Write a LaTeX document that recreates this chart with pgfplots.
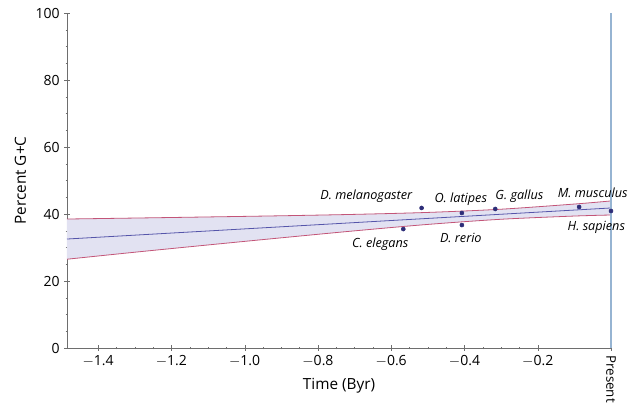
\documentclass[border=0pt]{standalone}
\usepackage{pgfplots}
\pgfplotsset{compat=1.18}
\usepackage{fontspec}
\setmainfont{Open Sans}
\definecolor{bandfill}{RGB}{226,226,242}
\definecolor{centerblue}{RGB}{85,85,170}
\definecolor{markblue}{RGB}{45,45,120}
\definecolor{boundred}{RGB}{195,85,120}
\definecolor{presentblue}{RGB}{150,180,210}
\definecolor{axisgray}{RGB}{110,110,110}
\begin{document}
\begin{tikzpicture}
\begin{axis}[
    scale only axis,
    width=408pt, height=251.25pt,
    xmin=-1.485, xmax=0,
    ymin=0, ymax=100,
    axis lines=left,
    axis line style={axisgray, -},
    xtick={-1.4,-1.2,-1.0,-0.8,-0.6,-0.4,-0.2},
    xticklabels={$-$1.4,$-$1.2,$-$1.0,$-$0.8,$-$0.6,$-$0.4,$-$0.2},
    extra x ticks={0},
    extra x tick labels={Present},
    extra x tick style={tick label style={rotate=-90, anchor=west, font=\fontsize{10}{12}\selectfont}},
    ytick={0,20,40,60,80,100},
    minor x tick num=3,
    minor y tick num=3,
    tick style={axisgray},
    major tick length=4pt, minor tick length=2pt,
    tick label style={font=\fontsize{10.5}{12}\selectfont},
    /pgf/number format/assume math mode=true,
    xlabel={Time (Byr)},
    ylabel={Percent G+C},
    xlabel style={at={(axis description cs:0.5,0)}, anchor=center, yshift=-28pt},
    ylabel style={at={(axis description cs:0,0.5)}, anchor=center, rotate=0, yshift=35pt},
    label style={font=\fontsize{11.5}{14}\selectfont},
    clip=false,
]
\addplot[draw=none, fill=bandfill] coordinates {
  (-1.485,38.50) (-1.3,38.79) (-1.1,39.12) (-0.9,39.47) (-0.7,39.89) (-0.5,40.47) (-0.3,41.43) (-0.1,42.97) (0,43.90)
  (0,39.70) (-0.1,39.39) (-0.3,38.43) (-0.5,36.89) (-0.7,34.97) (-0.9,32.89) (-1.1,30.76) (-1.3,28.59) (-1.485,26.50)
} -- cycle;
\addplot[boundred, line width=0.6pt, smooth] coordinates {
  (-1.485,38.50) (-1.3,38.79) (-1.1,39.12) (-0.9,39.47) (-0.7,39.89) (-0.5,40.47) (-0.3,41.43) (-0.1,42.97) (0,43.90)
};
\addplot[boundred, line width=0.6pt, smooth] coordinates {
  (-1.485,26.50) (-1.3,28.59) (-1.1,30.76) (-0.9,32.89) (-0.7,34.97) (-0.5,36.89) (-0.3,38.43) (-0.1,39.39) (0,39.70)
};
\addplot[centerblue, line width=0.6pt] coordinates {(-1.485,32.53) (0,41.8)};
\addplot[presentblue, line width=1.2pt] coordinates {(0,0) (0,100)};
\addplot[only marks, mark=*, mark size=1.5pt, markblue] coordinates {
  (-0.517,41.8) (-0.407,40.3) (-0.407,36.7) (-0.316,41.5) (-0.567,35.5) (-0.087,42.1) (0,40.9)
};
\begin{scope}[every node/.style={font=\itshape\fontsize{9.5}{11}\selectfont}]
\node[anchor=south east] at (axis cs:-0.53,42.0) {D. melanogaster};
\node[anchor=south] at (axis cs:-0.41,41.2) {O. latipes};
\node[anchor=south] at (axis cs:-0.25,42.0) {G. gallus};
\node[anchor=south] at (axis cs:-0.05,43.6) {M. musculus};
\node[anchor=north] at (axis cs:-0.04,39.4) {H. sapiens};
\node[anchor=north] at (axis cs:-0.63,34.2) {C. elegans};
\node[anchor=north] at (axis cs:-0.41,35.6) {D. rerio};
\end{scope}
\coordinate (O) at (rel axis cs:0,0);
\end{axis}
\pgfresetboundingbox
\path (O) ++(-50.25pt,-44.25pt) rectangle ++(480pt,305.25pt);
\end{tikzpicture}
\end{document}
